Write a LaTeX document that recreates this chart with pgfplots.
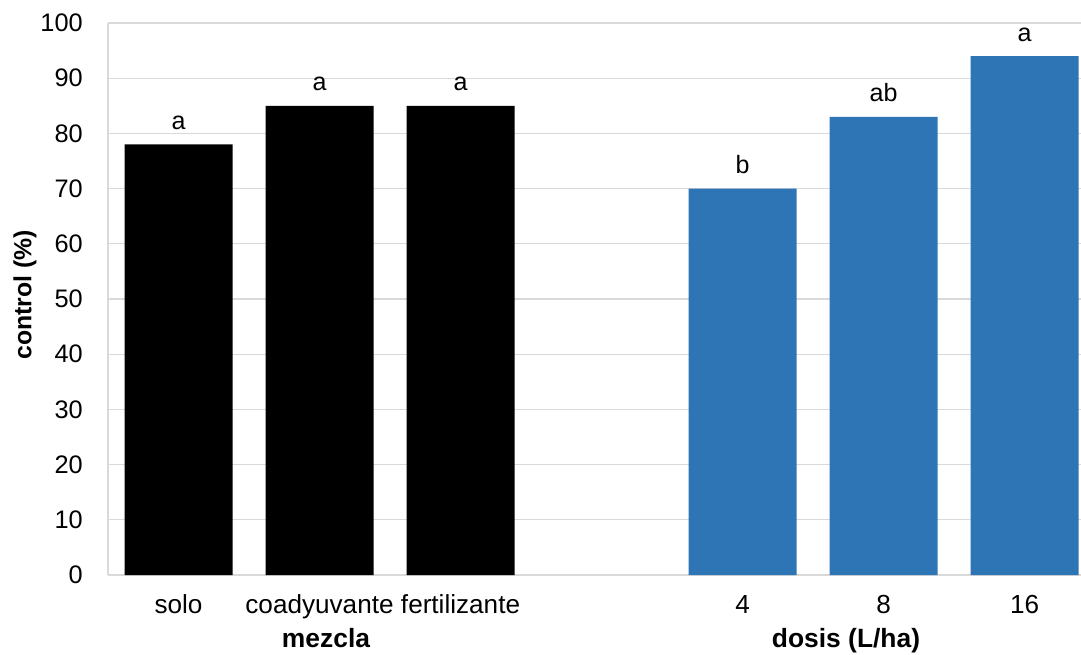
\documentclass[border=0pt]{standalone}
\usepackage{pgfplots}
\pgfplotsset{compat=1.18}
\usepackage{pgfplotstable}
\usepackage{fontspec}
\setmainfont{Liberation Sans}
\definecolor{barblue}{RGB}{46,117,182}
\definecolor{gridgray}{RGB}{217,217,217}

\pgfplotstableread{
x y lab
0 78 a
1 85 a
2 85 a
}\mezcla
\pgfplotstableread{
x y lab
4 70 b
5 83 ab
6 94 a
}\dosis

\begin{document}
\begin{tikzpicture}[x=1pt,y=1pt]
\useasboundingbox (0,0) rectangle (810.75,490.5);
\begin{axis}[
 at={(81pt,59.25pt)}, anchor=south west,
 scale only axis, width=729.75pt, height=414pt,
 xmin=-0.5, xmax=6.4, ymin=0, ymax=100,
 ytick={0,10,...,100},
 xtick={0,1,2,4,5,6},
 xticklabels={solo,coadyuvante,fertilizante,4,8,16},
 axis x line=bottom, axis y line=left,
 axis line style={gridgray, line width=1pt, -},
 ymajorgrids, grid style={gridgray, line width=1pt},
 major tick length=0pt,
 tick style={draw=none},
 /pgf/number format/assume math mode=true,
 yticklabel style={font=\fontsize{19}{22}\selectfont, anchor=east, inner sep=0pt, xshift=-18.75pt},
 xticklabel style={font=\fontsize{19.6}{22}\selectfont, anchor=base, inner sep=0pt, yshift=-28.5pt},
 ybar, bar width=81pt, bar shift=0pt,
 nodes near coords, point meta=explicit symbolic,
 nodes near coords style={font=\fontsize{18.8}{22}\selectfont, anchor=base, inner sep=0pt, yshift=11.25pt, text=black},
 clip=false,
]
\addplot[fill=black, draw=none] table[x=x,y=y,meta=lab]{\mezcla};
\addplot[fill=barblue, draw=none] table[x=x,y=y,meta=lab]{\dosis};
\end{axis}
\node[rotate=90, anchor=base, inner sep=0pt, font=\bfseries\fontsize{18.6}{22}\selectfont] at (23.5,269.25) {control (\%)};
\node[anchor=base, inner sep=0pt, font=\bfseries\fontsize{19.8}{22}\selectfont] at (244.5,5) {mezcla};
\node[anchor=base, inner sep=0pt, font=\bfseries\fontsize{19.8}{22}\selectfont] at (634.5,5) {dosis (L/ha)};
\end{tikzpicture}
\end{document}
